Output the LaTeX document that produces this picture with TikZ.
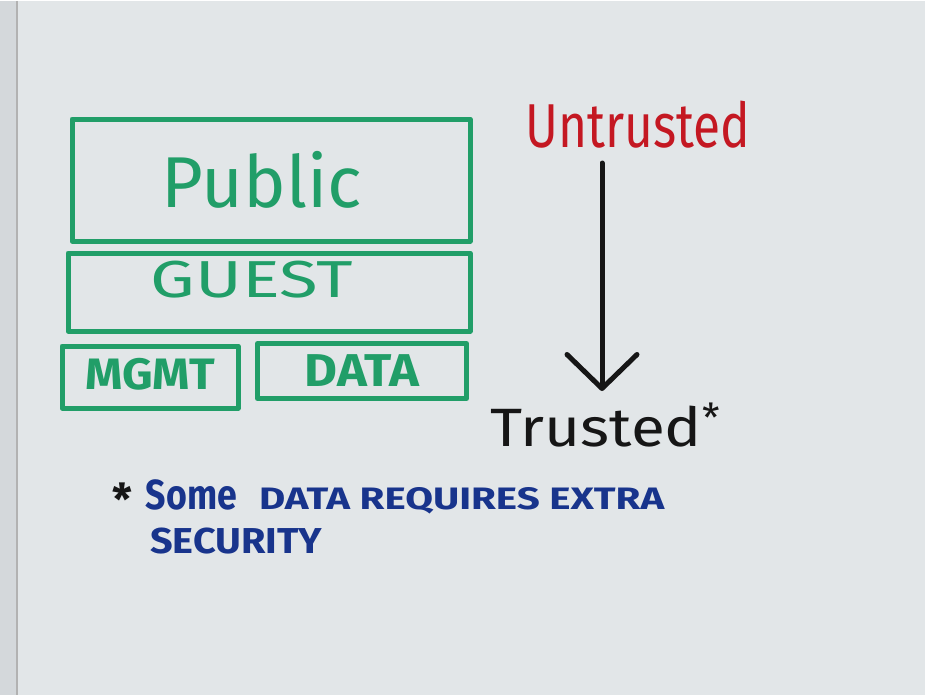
\documentclass[tikz,border=0pt]{standalone}
\usepackage{fontspec}
\setmainfont{Fira Sans}
\usetikzlibrary{positioning, arrows.meta}

\definecolor{board}{RGB}{226,230,232}
\definecolor{frame}{RGB}{212,216,219}
\definecolor{markergreen}{RGB}{33,158,104}
\definecolor{markerred}{RGB}{196,24,34}
\definecolor{markerblue}{RGB}{24,52,140}
\definecolor{markerblack}{RGB}{22,22,22}

\begin{document}
\begin{tikzpicture}[x=1pt, y=-1pt,
  zone/.style={draw=markergreen, line width=5pt, line join=round, text=markergreen, inner sep=0pt},
  word/.style={inner sep=0pt},
  pointer/.style={draw=markerblack, line width=5pt, line cap=round, -{Straight Barb[length=34pt, width=70pt, line cap=round, line join=round]}}]
\fill[board] (0,0) rectangle (925,694);
\fill[frame] (0,0) rectangle (16,694);
\draw[gray!60, line width=2pt] (17,0) -- (17,694);
\useasboundingbox (0,0) rectangle (925,694);

% the zones
\node[zone, minimum width=398pt, minimum height=122pt] (public) at (271,179) {\fontsize{72}{80}\selectfont Public\rule{18pt}{0pt}};
\node[zone, minimum width=402pt, minimum height=78pt] (guest) at (269,291) {\fontsize{52}{60}\selectfont\raisebox{26pt}{\scalebox{1.36}[1]{GUEST}}\rule{34pt}{0pt}};
\node[zone, minimum width=176pt, minimum height=62pt] (mgmt) at (150,376) {\fontsize{44}{50}\selectfont\bfseries\raisebox{6pt}{\scalebox{1.08}[1]{MGMT}}};
\node[zone, minimum width=209pt, minimum height=55pt] (data) at (362,370) {\fontsize{46}{54}\selectfont\bfseries\scalebox{1.1}[1]{DATA}};

% trust scale
\node[word, text=markerred] (untrusted) at (638,124) {\fontsize{62}{66}\selectfont\scalebox{0.8}[1]{Untrusted}};
\node[word, text=markerblack, anchor=west] (trusted) at (490,424) {\fontsize{54}{60}\selectfont\scalebox{1.15}[1]{Trusted}\raisebox{14pt}{\fontsize{40}{44}\selectfont *}};
\coordinate (arrowtop) at (602,162);
\coordinate (arrowtip) at (602,390);
\draw[pointer] (arrowtop) -- (arrowtip);

% footnote
\node[word, anchor=base west] (note) at (112,508) {\color{markerblack}\fontsize{44}{48}\selectfont\bfseries\raisebox{-6pt}{*}\hspace{14pt}\color{markerblue}\fontsize{42}{50}\selectfont\scalebox{0.85}[1]{Some}\hspace{22pt}\fontsize{31}{36}\selectfont\scalebox{1.3}[1]{DATA REQUIRES EXTRA}};
\node[word, anchor=base west, text=markerblue] (security) at (150,552) {\fontsize{36}{40}\selectfont\bfseries\scalebox{1.1}[1]{SECURITY}};
\end{tikzpicture}
\end{document}
